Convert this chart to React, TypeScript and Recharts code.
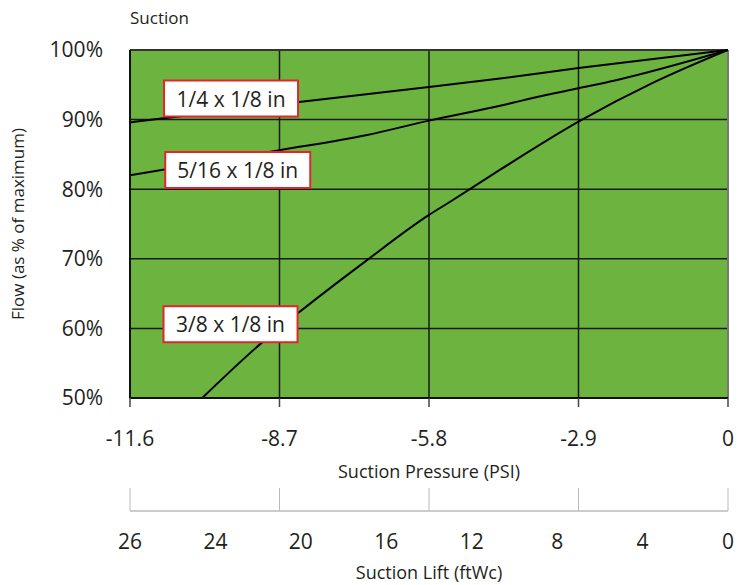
import React from 'react';
import { LineChart, Line, XAxis, YAxis, CartesianGrid, ReferenceDot, ReferenceLine } from 'recharts';

// suction pressure (psi) vs flow (% of max)
const psiTicks = [-11.6, -8.7, -5.8, -2.9, 0];
const flowTicks = [50, 60, 70, 80, 90, 100];
const liftLabels = ['26', '24', '20', '16', '12', '8', '4', '0'];
// lift labels sit evenly spaced under the psi scale, one slot each
const liftSlots = liftLabels.map((label, slot) => ({ slot, label }));

const quarterFlow = [
  { psi: -11.6, flow: 89.6 },
  { psi: -8.7, flow: 92.2 },
  { psi: -5.8, flow: 94.7 },
  { psi: -4.42, flow: 95.9 },
  { psi: -2.9, flow: 97.4 },
  { psi: 0, flow: 100 },
];

const fiveSixteenthFlow = [
  { psi: -11.6, flow: 82.0 },
  { psi: -8.7, flow: 85.6 },
  { psi: -7.0, flow: 87.8 },
  { psi: -5.8, flow: 89.85 },
  { psi: -4.42, flow: 92.0 },
  { psi: -3.55, flow: 93.5 },
  { psi: -2.9, flow: 94.5 },
  { psi: -2.15, flow: 95.7 },
  { psi: 0, flow: 100 },
];

const threeEighthFlow = [
  { psi: -10.2, flow: 50 },
  { psi: -9.02, flow: 58.1 },
  { psi: -8.34, flow: 62.2 },
  { psi: -7.04, flow: 69.6 },
  { psi: -5.8, flow: 76.3 },
  { psi: -5.39, flow: 78.2 },
  { psi: -4.42, flow: 82.8 },
  { psi: -2.9, flow: 89.7 },
  { psi: -1.45, flow: 95.3 },
  { psi: 0, flow: 100 },
];

const seriesLabels = [
  { text: '1/4 x 1/8 in', psi: -9.64, flow: 93.03 },
  { text: '5/16 x 1/8 in', psi: -9.51, flow: 82.76 },
  { text: '3/8 x 1/8 in', psi: -9.65, flow: 60.6 },
];

const FONT = '"Open Sans", sans-serif';
const GREEN = '#6cb33f';
const INK = '#231f20';

const LabelBox = ({ cx, cy, text }: any) => {
  const w = text.length * 11 + 2;
  const h = 36;
  return (
    <g>
      <rect x={cx - w / 2} y={cy - h / 2} width={w} height={h} fill="#fff" stroke="#e3262b" strokeWidth={2} />
      <text x={cx} y={cy + 8} textAnchor="middle" fontFamily={FONT} fontSize={21} fill={INK}>
        {text}
      </text>
    </g>
  );
};

// psi tick label, plus the grey tick that rises from the lift axis line below it
const PsiTick = ({ x, y, payload }: any) => {
  const v = payload.value as number;
  return (
    <g>
      <line x1={x} x2={x} y1={y + 80} y2={y + 57} stroke="#bbb" strokeWidth={1} />
      <text x={x} y={y} dy="0.71em" textAnchor="middle" fontFamily={FONT} fontSize={21} fill={INK}>
        {v === 0 ? '0' : v.toFixed(1)}
      </text>
    </g>
  );
};

export default function App() {
  return (
    <div style={{ position: 'absolute', left: 0, top: 0, width: 739, height: 585, background: '#fff' }}>
      <div style={{ position: 'absolute', left: 130, top: 6, fontFamily: FONT, fontSize: 17, color: INK }}>Suction</div>
      <LineChart width={739} height={585} data={liftSlots} margin={{ top: 50, right: 11, left: 0, bottom: 0 }}>
        <CartesianGrid xAxisId="a_psi" fill={GREEN} fillOpacity={1} stroke="#1a1a1a" strokeWidth={1.5} />
        <XAxis
          xAxisId="a_psi"
          dataKey="psi"
          type="number"
          domain={[-11.6, 0]}
          ticks={psiTicks}
          interval={0}
          allowDataOverflow
          height={113}
          axisLine={{ stroke: '#111', strokeWidth: 2 }}
          tickLine={{ stroke: '#444', strokeWidth: 1.5 }}
          tickSize={9}
          tickMargin={24}
          tick={<PsiTick />}
          label={{ value: 'Suction Pressure (PSI)', position: 'insideBottom', offset: 33, fontFamily: FONT, fontSize: 18, fill: INK }}
        />
        <XAxis
          xAxisId="b_grid"
          dataKey="slot"
          type="number"
          domain={[0, 7]}
          allowDataOverflow
          height={2}
          axisLine={{ stroke: '#bbb', strokeWidth: 1.5 }}
          tickLine={false}
          tick={false}
        />
        <XAxis
          xAxisId="c_lift"
          dataKey="slot"
          type="number"
          domain={[0, 7]}
          ticks={liftSlots.map((s) => s.slot)}
          interval={0}
          allowDataOverflow
          height={72}
          axisLine={false}
          tickLine={false}
          tickSize={0}
          tickMargin={21}
          tick={{ fontFamily: FONT, fontSize: 21, fill: INK }}
          tickFormatter={(v: number) => liftSlots[v]?.label ?? ''}
          label={{ value: 'Suction Lift (ftWc)', position: 'insideBottom', offset: 6, fontFamily: FONT, fontSize: 18, fill: INK }}
        />
        <YAxis
          type="number"
          domain={[50, 100]}
          ticks={flowTicks}
          interval={0}
          width={130}
          axisLine={{ stroke: '#111', strokeWidth: 2 }}
          tickLine={false}
          tickSize={0}
          tickMargin={27}
          tick={{ fontFamily: FONT, fontSize: 21, fill: INK }}
          tickFormatter={(v: number) => `${v}%`}
          label={({ viewBox }: any) => (
            <text
              x={viewBox.x + 24}
              y={viewBox.y + viewBox.height / 2}
              transform={`rotate(-90, ${viewBox.x + 24}, ${viewBox.y + viewBox.height / 2})`}
              textAnchor="middle"
              fontFamily={FONT}
              fontSize={17}
              fill={INK}
            >
              Flow (as % of maximum)
            </text>
          )}
        />
        <ReferenceLine xAxisId="a_psi" y={100} stroke="#333" strokeWidth={2} />
        <ReferenceLine xAxisId="a_psi" x={0} stroke="#777" strokeWidth={2} />
        <Line xAxisId="a_psi" data={quarterFlow} dataKey="flow" type="monotone" stroke="#000" strokeWidth={2} dot={false} isAnimationActive={false} />
        <Line xAxisId="a_psi" data={fiveSixteenthFlow} dataKey="flow" type="monotone" stroke="#000" strokeWidth={2} dot={false} isAnimationActive={false} />
        <Line xAxisId="a_psi" data={threeEighthFlow} dataKey="flow" type="monotone" stroke="#000" strokeWidth={2} dot={false} isAnimationActive={false} />
        {seriesLabels.map((l) => (
          <ReferenceDot
            key={l.text}
            xAxisId="a_psi"
            x={l.psi}
            y={l.flow}
            r={0}
            shape={(p: any) => <LabelBox cx={p.cx} cy={p.cy} text={l.text} />}
          />
        ))}
      </LineChart>
    </div>
  );
}
